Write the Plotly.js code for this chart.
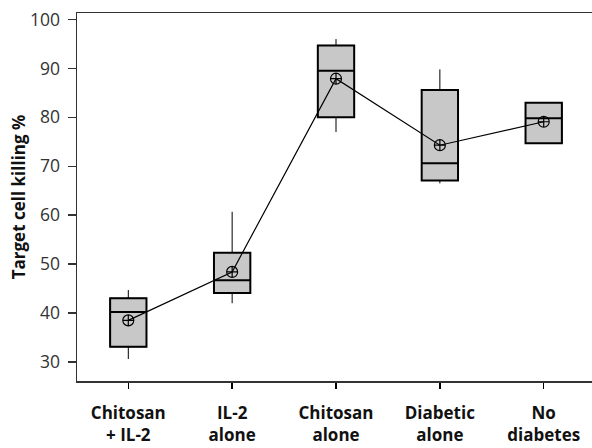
<!DOCTYPE html>
<html>
<head>
<meta charset="utf-8">
<script src="https://cdn.plot.ly/plotly-3.0.1.min.js"></script>
<style>html,body{margin:0;padding:0;background:#fff;}#chart{width:592px;height:448px;}</style>
</head>
<body>
<div id="chart"></div>
<script>
const categories = ["Chitosan<br>+ IL-2", "IL-2<br>alone", "Chitosan<br>alone", "Diabetic<br>alone", "No<br>diabetes"];
const positions = [0, 1, 2, 3, 4];
const lowerWhisker = [30.6, 42.0, 77.0, 66.5, 74.7];
const q1Values = [33.1, 44.1, 80.0, 67.1, 74.7];
const medianValues = [40.2, 46.7, 89.5, 70.6, 79.8];
const q3Values = [43.0, 52.3, 94.7, 85.6, 83.0];
const upperWhisker = [44.7, 60.7, 96.0, 89.8, 83.0];
const meanValues = [38.5, 48.4, 87.9, 74.3, 79.1];
const yTickValues = [30, 40, 50, 60, 70, 80, 90, 100];

const boxFill = "rgb(200,200,200)";

const whiskerTrace = {
  type: "box",
  x: positions,
  q1: q1Values,
  median: medianValues,
  q3: q3Values,
  lowerfence: lowerWhisker,
  upperfence: upperWhisker,
  width: 0.35,
  whiskerwidth: 0,
  fillcolor: boxFill,
  line: {color: "#000", width: 1},
  boxpoints: false,
  hoverinfo: "skip",
  showlegend: false
};

const boxTrace = {
  type: "box",
  x: positions,
  q1: q1Values,
  median: medianValues,
  q3: q3Values,
  lowerfence: q1Values,
  upperfence: q3Values,
  width: 0.35,
  whiskerwidth: 0,
  fillcolor: boxFill,
  line: {color: "#000", width: 2},
  boxpoints: false,
  hoverinfo: "skip",
  showlegend: false
};

const meanTrace = {
  type: "scatter",
  mode: "lines+markers",
  x: positions,
  y: meanValues,
  line: {color: "#000", width: 1.2},
  marker: {symbol: "circle-cross-open", size: 11, color: "#000", line: {width: 1.2, color: "#000"}},
  showlegend: false
};

const layout = {
  width: 592,
  height: 448,
  margin: {l: 77, r: 0, t: 13, b: 67},
  paper_bgcolor: "#fff",
  plot_bgcolor: "#fff",
  boxmode: "overlay",
  showlegend: false,
  font: {family: "Open Sans, sans-serif", color: "#000"},
  xaxis: {
    range: [-0.494, 4.465],
    tickvals: positions,
    ticktext: categories.map(c => "<b>" + c + "</b>"),
    tickfont: {size: 17, color: "#111", family: "Open Sans, sans-serif"},
    ticks: "outside",
    ticklen: 6,
    tickwidth: 1.5,
    tickcolor: "#000",
    ticklabelstandoff: 10,
    showline: true,
    linecolor: "#333",
    linewidth: 1.5,
    mirror: true,
    showgrid: false,
    zeroline: false
  },
  yaxis: {
    range: [26.1, 101.33],
    tickvals: yTickValues,
    tickfont: {size: 17.5, color: "#333", family: "Open Sans, sans-serif"},
    ticks: "outside",
    ticklen: 8,
    tickwidth: 1.5,
    tickcolor: "#333",
    ticklabelstandoff: 4,
    showline: true,
    linecolor: "#333",
    linewidth: 1.5,
    showgrid: false,
    zeroline: false,
    title: {text: "<b>Target cell killing %</b>", font: {size: 17, color: "#111"}, standoff: 0}
  }
};

Plotly.newPlot("chart", [whiskerTrace, boxTrace, meanTrace], layout, {displayModeBar: false, staticPlot: true});
</script>
</body>
</html>
